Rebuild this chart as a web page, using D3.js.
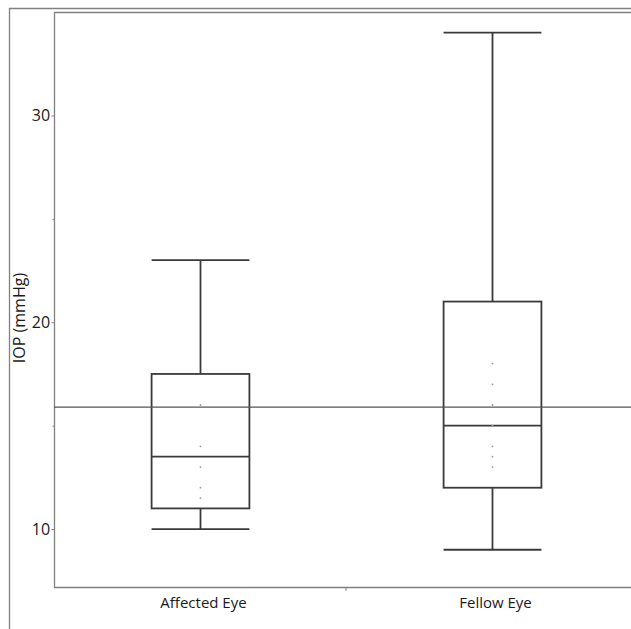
<!DOCTYPE html>
<html><head><meta charset="utf-8">
<script src="https://cdn.jsdelivr.net/npm/d3@7"></script>
<style>body{margin:0;background:#fff;overflow:hidden}</style>
</head><body>
<svg id="c" width="631" height="629"></svg>
<script>
const categories = ["Affected Eye", "Fellow Eye"];
const whiskerLow = [10, 9];
const q1 = [11, 12];
const median = [13.5, 15];
const q3 = [17.5, 21];
const whiskerHigh = [23, 34];
const points = [[16, 14, 13, 12, 11.5], [18, 17, 16, 15, 14, 13.5, 13]];
const referenceLine = 15.9;
const majorTicks = [10, 20, 30];
const minorTicks = [15, 25];
const yLabel = "IOP (mmHg)";

const svg = d3.select("#c");
const L = 54, T = 12, B = 587, R = 638;
const font = "'Open Sans', 'Noto Sans', sans-serif";

const y = d3.scaleLinear().domain([7.2, 35.0]).range([B, T]);
const x = d3.scalePoint().domain(categories).range([L, R]).padding(0.5);
const bw = x.step() * 0.335;

// outer frame
svg.append("path").attr("d", `M9.5,640 V8.5 H640`).attr("fill", "none").attr("stroke", "#808080").attr("stroke-width", 1.3);
// plot frame
svg.append("path").attr("d", `M640,${T+0.5} H${L+0.5} V${B+0.5} H640`).attr("fill", "none").attr("stroke", "#808080").attr("stroke-width", 1.3);

// y axis ticks
const yAxis = d3.axisLeft(y).tickValues(majorTicks).tickSize(3).tickFormat(d3.format("d"));
const ga = svg.append("g").attr("transform", `translate(${L+0.5},0)`).call(yAxis);
ga.select(".domain").remove();
ga.selectAll("line").attr("stroke", "#808080");
ga.selectAll("text").attr("font-family", font).attr("font-size", 16).attr("font-weight", 500).attr("fill", "#1a1a1a").attr("dx", "0.1em");
const gm = svg.append("g").attr("transform", `translate(${L+0.5},0)`).call(d3.axisLeft(y).tickValues(minorTicks).tickSize(2).tickFormat(""));
gm.select(".domain").remove();
gm.selectAll("line").attr("stroke", "#808080");

// x axis
const gx = svg.append("g").attr("transform", `translate(0,${B+0.5})`).call(d3.axisBottom(x).tickSize(0).tickPadding(10));
gx.select(".domain").remove();
gx.selectAll("text").attr("font-family", font).attr("font-size", 15).attr("font-weight", 500).attr("fill", "#1a1a1a").attr("dx", "0.2em");
const mid = (x(categories[0]) + x(categories[1])) / 2;
svg.append("line").attr("x1", mid).attr("x2", mid).attr("y1", B+1).attr("y2", B+4).attr("stroke", "#808080");

// y label
svg.append("text").attr("transform", `translate(25,318) rotate(-90)`)
  .attr("text-anchor", "middle").attr("font-family", font).attr("font-size", 16).attr("font-weight", 500).attr("fill", "#1a1a1a").text(yLabel);

// boxes
const stroke = "#3a3a3a", sw = 1.8;
categories.forEach((c, i) => {
  const cx = Math.round(x(c)) + 0.5;
  const g = svg.append("g");
  g.append("line").attr("x1", cx).attr("x2", cx).attr("y1", y(whiskerHigh[i])).attr("y2", y(q3[i])).attr("stroke", stroke).attr("stroke-width", sw);
  g.append("line").attr("x1", cx).attr("x2", cx).attr("y1", y(q1[i])).attr("y2", y(whiskerLow[i])).attr("stroke", stroke).attr("stroke-width", sw);
  [whiskerHigh[i], whiskerLow[i]].forEach(v => {
    g.append("line").attr("x1", cx - bw/2).attr("x2", cx + bw/2).attr("y1", y(v)).attr("y2", y(v)).attr("stroke", stroke).attr("stroke-width", sw);
  });
  g.append("rect").attr("x", cx - bw/2).attr("y", y(q3[i])).attr("width", bw).attr("height", y(q1[i]) - y(q3[i]))
    .attr("fill", "none").attr("stroke", stroke).attr("stroke-width", sw);
  g.append("line").attr("x1", cx - bw/2).attr("x2", cx + bw/2).attr("y1", y(median[i])).attr("y2", y(median[i])).attr("stroke", stroke).attr("stroke-width", sw);
  g.selectAll("circle").data(points[i]).join("circle").attr("cx", cx).attr("cy", d => y(d)).attr("r", 0.9).attr("fill", "#999");
});

// reference line
svg.append("line").attr("x1", L).attr("x2", 640).attr("y1", y(referenceLine)).attr("y2", y(referenceLine)).attr("stroke", "#555").attr("stroke-width", 1.3);
</script>
</body></html>
